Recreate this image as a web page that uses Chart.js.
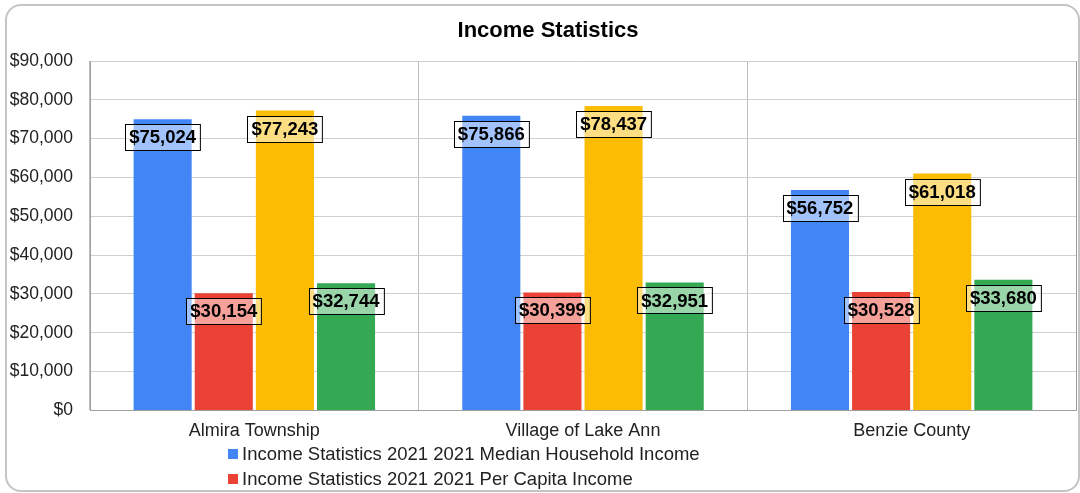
<!DOCTYPE html>
<html>
<head>
<meta charset="utf-8">
<script src="https://cdn.jsdelivr.net/npm/chart.js@4"></script>
<style>
  html,body{margin:0;padding:0;background:#fff;}
  #wrap{position:relative;width:1080px;height:493px;overflow:hidden;}
  #c{position:absolute;left:0;top:0;}
  #frame{position:absolute;left:5px;top:4px;width:1071px;height:484px;border:2px solid #c4c4c4;border-radius:16px;pointer-events:none;}
  #title{position:absolute;left:0;top:17px;width:1096px;text-align:center;font-family:"Liberation Sans",Arial,sans-serif;font-weight:bold;font-size:22px;line-height:26px;color:#000;}
  #legend{position:absolute;left:228px;top:441px;font-family:"Liberation Sans",Arial,sans-serif;font-size:18.5px;color:#222;}
  .li{display:flex;align-items:center;height:25px;}
  .sw{width:10px;height:10px;margin-right:4px;}
</style>
</head>
<body>
<div id="wrap">
  <canvas id="c" width="1080" height="493"></canvas>
  <div id="frame"></div>
  <div id="title"></div>
  <div id="legend"></div>
</div>
<script>
const chartTitle = "Income Statistics";
const categories = ["Almira Township", "Village of Lake Ann", "Benzie County"];
const seriesNames = [
  "Income Statistics 2021 2021 Median Household Income",
  "Income Statistics 2021 2021 Per Capita Income",
  "Series 3",
  "Series 4"
];
const medianHousehold = [75024, 75866, 56752];
const perCapita = [30154, 30399, 30528];
const series3 = [77243, 78437, 61018];
const series4 = [32744, 32951, 33680];
const colors = ["#4285F4", "#EA4335", "#FBBC04", "#34A853"];
const legendShown = [0, 1];

const fmt = v => "$" + Number(v).toLocaleString("en-US");

const labelPlugin = {
  id: "boxLabels",
  afterDatasetsDraw(chart) {
    const ctx = chart.ctx;
    ctx.save();
    ctx.font = "bold 18.5px 'Liberation Sans', Arial, sans-serif";
    ctx.textAlign = "center";
    ctx.textBaseline = "middle";
    chart.data.datasets.forEach((ds, di) => {
      const meta = chart.getDatasetMeta(di);
      meta.data.forEach((el, i) => {
        const txt = fmt(ds.data[i]);
        const w = ctx.measureText(txt).width + 8;
        const h = 26;
        const cy = el.y + 18;
        const x0 = Math.round(el.x - w / 2) + 0.5;
        const y0 = Math.round(cy - h / 2) + 0.5;
        ctx.fillStyle = "rgba(255,255,255,0.5)";
        ctx.fillRect(x0, y0, w, h);
        ctx.strokeStyle = "#000";
        ctx.lineWidth = 1;
        ctx.strokeRect(x0, y0, w, h);
        ctx.fillStyle = "#000";
        ctx.fillText(txt, el.x, cy + 1);
      });
    });
    ctx.restore();
  }
};

const allData = [medianHousehold, perCapita, series3, series4];
new Chart(document.getElementById("c"), {
  type: "bar",
  data: {
    labels: categories,
    datasets: allData.map((d, i) => ({
      label: seriesNames[i],
      data: d,
      backgroundColor: colors[i],
      barPercentage: 0.95,
      categoryPercentage: 0.744
    }))
  },
  options: {
    responsive: false,
    animation: false,
    devicePixelRatio: 1,
    layout: { padding: { left: 0, right: 4, top: 61, bottom: 41 } },
    plugins: {
      legend: { display: false },
      tooltip: { enabled: false },
      title: { display: false }
    },
    scales: {
      x: {
        grid: { display: true, offset: true, color: "#bdbdbd", drawTicks: false },
        border: { color: "#9e9e9e" },
        ticks: { color: "#222", font: { family: "'Liberation Sans', Arial, sans-serif", size: 18 }, padding: 10 }
      },
      y: {
        min: 0, max: 90000,
        afterFit: s => { s.width = 90; },
        ticks: { stepSize: 10000, color: "#222", padding: 17, callback: v => fmt(v),
          font: { family: "'Liberation Sans', Arial, sans-serif", size: 17.5 } },
        grid: { color: "#cfcfcf", drawTicks: false },
        border: { color: "#9e9e9e" }
      }
    }
  },
  plugins: [labelPlugin, {
    id: "rightBorder",
    afterDraw(chart) {
      const a = chart.chartArea, ctx = chart.ctx;
      ctx.save(); ctx.strokeStyle = "#9e9e9e"; ctx.lineWidth = 1;
      ctx.beginPath(); ctx.moveTo(Math.round(a.right) + 0.5, a.top); ctx.lineTo(Math.round(a.right) + 0.5, a.bottom); ctx.stroke();
      ctx.restore();
    }
  }]
});

document.getElementById("title").textContent = chartTitle;
const lg = document.getElementById("legend");
legendShown.forEach(i => {
  const row = document.createElement("div");
  row.className = "li";
  const sw = document.createElement("span");
  sw.className = "sw"; sw.style.background = colors[i];
  const t = document.createElement("span");
  t.textContent = seriesNames[i];
  row.appendChild(sw); row.appendChild(t);
  lg.appendChild(row);
});
</script>
</body>
</html>
